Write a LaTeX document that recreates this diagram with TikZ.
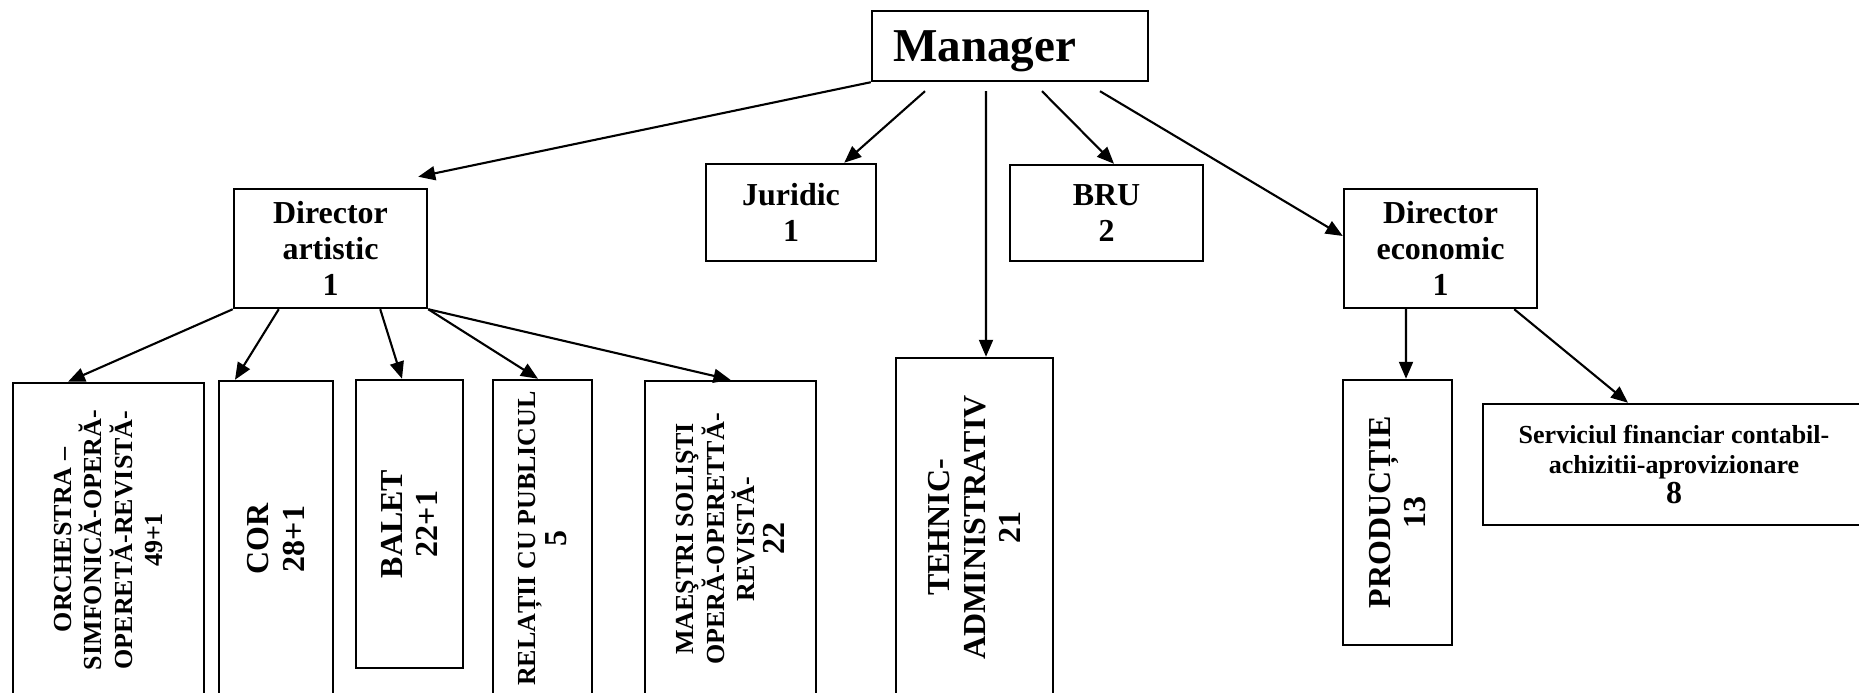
\documentclass[tikz,border=0pt]{standalone}
\usepackage{fontspec}
\setmainfont{Liberation Serif}
\usetikzlibrary{arrows.meta,positioning}
\newcommand{\bigsz}{\fontsize{9.1}{10.2}\selectfont}
\newcommand{\smallsz}{\fontsize{7.4}{8.6}\selectfont}
\newcommand{\mgrsz}{\fontsize{13.4}{15}\selectfont}

\begin{document}
\begin{tikzpicture}[
  box/.style={draw, line width=0.7pt, inner sep=0pt, align=center, font=\bfseries\bigsz},
  vbox/.style={box, rotate=90},
  vsmall/.style={vbox, font=\bfseries\smallsz},
  link/.style={-{Triangle[length=0.17cm,width=0.14cm]}, line width=0.6pt}]
  \useasboundingbox (0,0) rectangle (18.59,6.93);
  % top level
  \node[box, font=\bfseries\mgrsz, minimum width=2.76cm, minimum height=0.70cm, text width=2.34cm, align=left, text depth=0pt] (mgr) at (10.10,6.47) {Manager};
  \node[box, minimum width=1.93cm, minimum height=1.19cm] (dira) at (3.305,4.445) {Director\\artistic\\1};
  \node[box, minimum width=1.70cm, minimum height=0.97cm] (jur) at (7.91,4.805) {Juridic\\1};
  \node[box, minimum width=1.93cm, minimum height=0.96cm] (bru) at (11.065,4.80) {BRU\\2};
  \node[box, minimum width=1.93cm, minimum height=1.19cm] (dire) at (14.405,4.445) {Director\\economic\\1};
  % departments (rotated boxes)
  \node[vsmall, minimum width=3.14cm, minimum height=1.91cm] (orch) at (1.085,1.53) {ORCHESTRA –\\SIMFONICĂ-OPERĂ-\\OPERETĂ-REVISTĂ-\\49+1};
  \node[vbox, minimum width=3.16cm, minimum height=1.14cm] (cor) at (2.76,1.54) {COR\\28+1};
  \node[vbox, minimum width=2.88cm, minimum height=1.07cm] (bal) at (4.095,1.69) {BALET\\22+1};
  \node[vsmall, minimum width=3.17cm, minimum height=0.99cm] (rel) at (5.425,1.545) {RELAȚII CU PUBLICUL\\{\bigsz 5}};
  \node[vsmall, minimum width=3.16cm, minimum height=1.71cm] (mae) at (7.305,1.54) {MAEŞTRI SOLIŞTI\\OPERĂ-OPERETTĂ-\\REVISTĂ-\\{\bigsz 22}};
  \node[vbox, minimum width=3.39cm, minimum height=1.57cm] (teh) at (9.745,1.655) {TEHNIC-\\ADMINISTRATIV\\21};
  \node[vbox, minimum width=2.65cm, minimum height=1.09cm] (prod) at (13.975,1.805) {PRODUCȚIE\\13};
  \node[box, font=\bfseries\smallsz, minimum width=3.82cm, minimum height=1.21cm] (serv) at (16.74,2.285) {Serviciul financiar contabil-\\achizitii-aprovizionare\\{\bigsz 8}};
  % manager links
  \draw[link] (mgr.south west) -- ([shift={(-0.10,0.11)}]dira.north east);
  \draw[link] ([shift={(-0.85,-0.09)}]mgr.south) -- ([xshift=-0.33cm]jur.north east);
  \draw[link] ([shift={(-0.24,-0.09)}]mgr.south) -- ([xshift=0.115cm]teh.east);
  \draw[link] ([shift={(0.32,-0.09)}]mgr.south) -- ([xshift=0.075cm]bru.north);
  \draw[link] ([shift={(0.90,-0.09)}]mgr.south) -- ([yshift=0.125cm]dire.west);
  % artistic links
  \draw[link] (dira.south west) -- ([xshift=-0.405cm]orch.east);
  \draw[link] ([xshift=0.46cm]dira.south west) -- ([xshift=-0.41cm]cor.east);
  \draw[link] ([xshift=-0.48cm]dira.south east) -- ([xshift=-0.075cm]bal.east);
  \draw[link] (dira.south east) -- ([xshift=-0.045cm]rel.east);
  \draw[link] (dira.south east) -- (mae.east);
  % economic links
  \draw[link] ([xshift=-0.345cm]dire.south) -- ([xshift=0.085cm]prod.east);
  \draw[link] ([xshift=-0.24cm]dire.south east) -- ([xshift=-0.46cm]serv.north);
\end{tikzpicture}
\end{document}
